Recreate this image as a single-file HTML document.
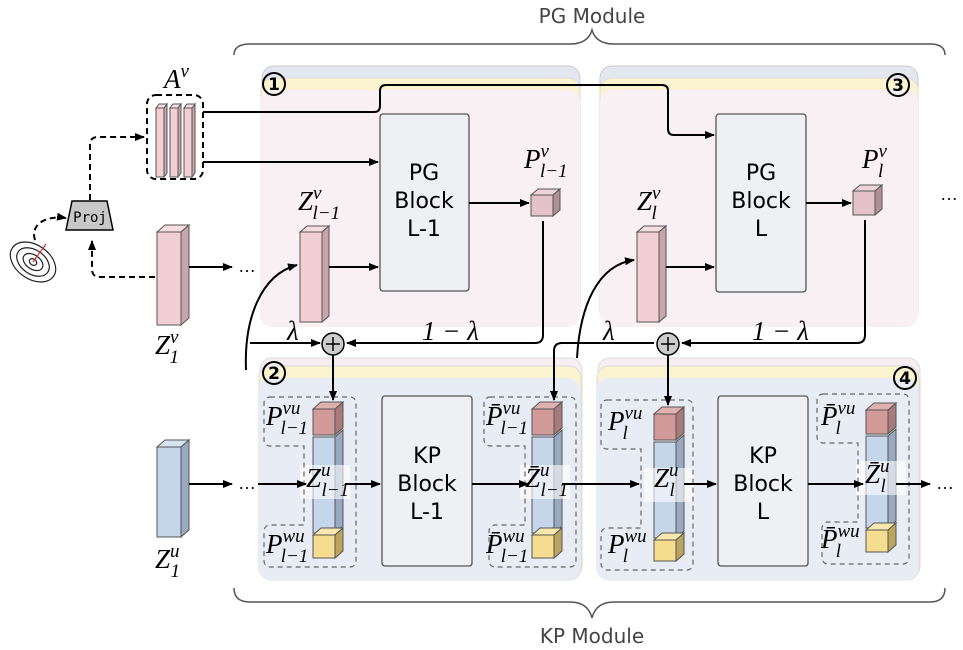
<!DOCTYPE html>
<html><head><meta charset="utf-8"><style>
body{margin:0;background:#fff}
svg{display:block}
.m{font-family:"Liberation Serif",serif;font-style:italic;font-size:27px}
.s{font-family:"Liberation Serif",serif;font-style:italic;font-size:19px}
.b{font-family:"DejaVu Sans","Liberation Sans",sans-serif;font-size:22px;text-anchor:middle}
.t{font-family:"DejaVu Sans","Liberation Sans",sans-serif;font-size:20px;fill:#444;text-anchor:middle}
</style></head><body>
<svg width="963" height="650" viewBox="0 0 963 650" xmlns="http://www.w3.org/2000/svg">
<defs>
<marker id="a" markerWidth="10" markerHeight="8" refX="9" refY="4" orient="auto" markerUnits="userSpaceOnUse"><path d="M0,0L10,4L0,8z" fill="#000"/></marker>
</defs>
<text x="592" y="23" class="t">PG Module</text>
<text x="592" y="643" class="t">KP Module</text>
<path d="M234,55 Q234,44 250,44 L570,44 Q588,44 592,30 Q596,44 614,44 L930,44 Q945,44 945,55" fill="none" stroke="#555" stroke-width="1.5"/>
<path d="M234,588 Q234,602 250,602 L570,602 Q588,602 592,618 Q596,602 614,602 L930,602 Q945,602 945,588" fill="none" stroke="#555" stroke-width="1.5"/>

<g>
<rect x="262" y="66" width="318" height="255" rx="12" fill="#e3e8f0" stroke="#ccc"/>
<rect x="261" y="78" width="319" height="245" rx="12" fill="#fbf3cf" stroke="#ddd"/>
<rect x="260" y="90" width="320" height="237" rx="12" fill="#f9f0f3"/>
<rect x="600" y="66" width="318" height="255" rx="12" fill="#e3e8f0" stroke="#ccc"/>
<rect x="600" y="78" width="318" height="245" rx="12" fill="#fbf3cf" stroke="#ddd"/>
<rect x="600" y="90" width="318" height="237" rx="12" fill="#f9f0f3"/>
<rect x="260" y="358" width="322" height="220" rx="12" fill="#f6eef0" stroke="#ddd"/>
<rect x="259" y="366" width="322" height="214" rx="12" fill="#fbf3cf" stroke="#ddd"/>
<rect x="258" y="378" width="322" height="202" rx="12" fill="#e8edf5"/>
<rect x="598" y="358" width="322" height="220" rx="12" fill="#f6eef0" stroke="#ddd"/>
<rect x="597" y="366" width="322" height="214" rx="12" fill="#fbf3cf" stroke="#ddd"/>
<rect x="596" y="378" width="322" height="202" rx="12" fill="#e8edf5"/>
</g>
<g font-family="DejaVu Sans,sans-serif" font-size="17" text-anchor="middle" font-weight="bold">
<circle cx="274" cy="84" r="11" fill="none" stroke="#000" stroke-width="2"/><text x="274" y="90">1</text>
<circle cx="898" cy="85" r="11" fill="none" stroke="#000" stroke-width="2"/><text x="898" y="91">3</text>
<circle cx="274" cy="373" r="11" fill="none" stroke="#000" stroke-width="2"/><text x="274" y="379">2</text>
<circle cx="905" cy="378" r="11" fill="none" stroke="#000" stroke-width="2"/><text x="905" y="384">4</text>
</g>

<g fill="#eef0f3" stroke="#555" stroke-width="1.3">
<rect x="380" y="114" width="89" height="177" rx="3"/>
<rect x="716" y="114" width="90" height="178" rx="3"/>
<rect x="382" y="396" width="90" height="170" rx="3"/>
<rect x="718" y="396" width="90" height="170" rx="3"/>
</g>
<text class="b" x="424" y="180">PG</text><text class="b" x="424" y="208">Block</text><text class="b" x="424" y="236">L-1</text>
<text class="b" x="761" y="180">PG</text><text class="b" x="761" y="208">Block</text><text class="b" x="761" y="236">L</text>
<text class="b" x="427" y="463">KP</text><text class="b" x="427" y="491">Block</text><text class="b" x="427" y="519">L-1</text>
<text class="b" x="763" y="463">KP</text><text class="b" x="763" y="491">Block</text><text class="b" x="763" y="519">L</text>

<g stroke="#555" stroke-width="1">
<rect x="157" y="232" width="24" height="93" fill="#f2cfd5"/><path d="M157,232l8,-7h24l-8,7z" fill="#f6dde1"/><path d="M181,232l8,-7v93l-8,7z" fill="#c9a5ab"/>
<rect x="157" y="447" width="24" height="90" fill="#c5d5ea"/><path d="M157,447l8,-7h24l-8,7z" fill="#d8e3f1"/><path d="M181,447l8,-7v90l-8,7z" fill="#98a9c0"/>
<rect x="300" y="232" width="22" height="90" fill="#f2cfd5"/><path d="M300,232l7,-6h22l-7,6z" fill="#f6dde1"/><path d="M322,232l7,-6v90l-7,6z" fill="#c9a5ab"/>
<rect x="637" y="232" width="22" height="90" fill="#f2cfd5"/><path d="M637,232l7,-6h22l-7,6z" fill="#f6dde1"/><path d="M659,232l7,-6v90l-7,6z" fill="#c9a5ab"/>
<rect x="531" y="195" width="22" height="21" fill="#e3c2cb"/><path d="M531,195l7,-6h22l-7,6z" fill="#ecd3da"/><path d="M553,195l7,-6v21l-7,6z" fill="#b08f98"/>
<rect x="853" y="191" width="22" height="24" fill="#e3c2cb"/><path d="M853,191l7,-6h22l-7,6z" fill="#ecd3da"/><path d="M875,191l7,-6v24l-7,6z" fill="#b08f98"/>
<path d="M156,108h8v69h-8z M170,108h8v69h-8z M184,108h8v69h-8z" fill="#f2cfd5"/>
<path d="M164,108l3,-4v69l-3,4z M178,108l3,-4v69l-3,4z M192,108l3,-4v69l-3,4z" fill="#c9a5ab"/>
<path d="M156,108l3,-4h8l-3,4z M170,108l3,-4h8l-3,4z M184,108l3,-4h8l-3,4z" fill="#f6dde1"/>
</g>
<rect x="147" y="95" width="56" height="84" rx="9" fill="none" stroke="#000" stroke-width="2" stroke-dasharray="6,4"/>

<g stroke="#555" stroke-width="1">
<rect x="313" y="409" width="22" height="26" fill="#d29b9a"/><path d="M313,409l8,-7h22l-8,7z" fill="#deb0ae"/><path d="M335,409l8,-7v26l-8,7z" fill="#a97a7a"/>
<rect x="313" y="437" width="22" height="96" fill="#c5d5ea"/><path d="M335,437l8,-7v96l-8,7z" fill="#98a9c0"/>
<rect x="313" y="535" width="22" height="23" fill="#f5dd90"/><path d="M313,535l8,-7h22l-8,7z" fill="#f8e7ae"/><path d="M335,535l8,-7v23l-8,7z" fill="#bba45d"/>
<rect x="532" y="409" width="22" height="26" fill="#d29b9a"/><path d="M532,409l8,-7h22l-8,7z" fill="#deb0ae"/><path d="M554,409l8,-7v26l-8,7z" fill="#a97a7a"/>
<rect x="532" y="437" width="22" height="96" fill="#c5d5ea"/><path d="M554,437l8,-7v96l-8,7z" fill="#98a9c0"/>
<rect x="532" y="535" width="22" height="23" fill="#f5dd90"/><path d="M532,535l8,-7h22l-8,7z" fill="#f8e7ae"/><path d="M554,535l8,-7v23l-8,7z" fill="#bba45d"/>
<rect x="654" y="414" width="22" height="26" fill="#d29b9a"/><path d="M654,414l8,-7h22l-8,7z" fill="#deb0ae"/><path d="M676,414l8,-7v26l-8,7z" fill="#a97a7a"/>
<rect x="654" y="442" width="22" height="96" fill="#c5d5ea"/><path d="M676,442l8,-7v96l-8,7z" fill="#98a9c0"/>
<rect x="654" y="540" width="22" height="21" fill="#f5dd90"/><path d="M654,540l8,-7h22l-8,7z" fill="#f8e7ae"/><path d="M676,540l8,-7v21l-8,7z" fill="#bba45d"/>
<rect x="866" y="410" width="22" height="24" fill="#d29b9a"/><path d="M866,410l8,-7h22l-8,7z" fill="#deb0ae"/><path d="M888,410l8,-7v24l-8,7z" fill="#a97a7a"/>
<rect x="866" y="436" width="22" height="92" fill="#c5d5ea"/><path d="M888,436l8,-7v92l-8,7z" fill="#98a9c0"/>
<rect x="866" y="530" width="22" height="22" fill="#f5dd90"/><path d="M866,530l8,-7h22l-8,7z" fill="#f8e7ae"/><path d="M888,530l8,-7v22l-8,7z" fill="#bba45d"/>
</g>
<g fill="#fff" opacity="0.6">
<rect x="300" y="465" width="50" height="34"/><rect x="520" y="465" width="50" height="34"/>
<rect x="644" y="468" width="50" height="34"/><rect x="856" y="461" width="50" height="34"/>
</g>
<g fill="none" stroke="#666" stroke-width="1.2" stroke-dasharray="5,4">
<path d="M270,397h80a6,6 0 0 1 6,6v158a6,6 0 0 1 -6,6h-80a6,6 0 0 1 -6,-6v-30a6,6 0 0 1 6,-6h34v-79h-34a6,6 0 0 1 -6,-6v-37a6,6 0 0 1 6,-6z"/>
<path d="M490,397h80a6,6 0 0 1 6,6v158a6,6 0 0 1 -6,6h-75a6,6 0 0 1 -6,-6v-30a6,6 0 0 1 6,-6h30v-79h-35a6,6 0 0 1 -6,-6v-37a6,6 0 0 1 6,-6z"/>
<path d="M607,400h80a6,6 0 0 1 6,6v158a6,6 0 0 1 -6,6h-80a6,6 0 0 1 -6,-6v-30a6,6 0 0 1 6,-6h34v-79h-34a6,6 0 0 1 -6,-6v-37a6,6 0 0 1 6,-6z"/>
<path d="M823,394h80a6,6 0 0 1 6,6v158a6,6 0 0 1 -6,6h-75a6,6 0 0 1 -6,-6v-30a6,6 0 0 1 6,-6h30v-79h-35a6,6 0 0 1 -6,-6v-37a6,6 0 0 1 6,-6z"/>
</g>

<g fill="none" stroke="#000" stroke-width="2">
<path d="M203,112H374q6,0 6,-6v-15q0,-6 6,-6H662q6,0 6,6v38q0,6 6,6H714" marker-end="url(#a)"/>
<path d="M203,162H378" marker-end="url(#a)"/>
<path d="M329,267H378" marker-end="url(#a)"/>
<path d="M666,267H714" marker-end="url(#a)"/>
<path d="M469,203H529" marker-end="url(#a)"/>
<path d="M806,203H851" marker-end="url(#a)"/>
<path d="M189,267H232" marker-end="url(#a)"/>
<path d="M543,221V335q0,8 -8,8H347" marker-end="url(#a)"/>
<path d="M865,220V335q0,8 -8,8H682" marker-end="url(#a)"/>
<path d="M250,343H320" marker-end="url(#a)"/>
<path d="M654,343H562q-8,0 -8,8V400" marker-end="url(#a)"/>
<path d="M333,355V400" marker-end="url(#a)"/>
<path d="M668,355V405" marker-end="url(#a)"/>
<path d="M246,370C244,320 260,275 297,265" marker-end="url(#a)"/>
<path d="M577,358C580,305 598,265 634,260" marker-end="url(#a)"/>
<path d="M189,484H232" marker-end="url(#a)"/>
<path d="M258,484H306" marker-end="url(#a)"/>
<path d="M345,484H380" marker-end="url(#a)"/>
<path d="M472,484H528" marker-end="url(#a)"/>
<path d="M562,484H639" marker-end="url(#a)"/>
<path d="M684,484H716" marker-end="url(#a)"/>
<path d="M808,484H863" marker-end="url(#a)"/>
<path d="M896,484H930" marker-end="url(#a)"/>
</g>
<g stroke="#000" stroke-width="1.5">
<circle cx="333" cy="344" r="11" fill="#ccc"/><path d="M326,344h14M333,337v14"/>
<circle cx="668" cy="344" r="11" fill="#ccc"/><path d="M661,344h14M668,337v14"/>
</g>
<g fill="none" stroke="#000" stroke-width="2" stroke-dasharray="6,4">
<path d="M90,200V145q0,-8 8,-8H144" marker-end="url(#a)"/>
<path d="M155,277H100q-8,0 -8,-8V241" marker-end="url(#a)"/>
<path d="M35,240C30,225 45,215 66,218" marker-end="url(#a)"/>
</g>
<path d="M72,201H107L113,230H66Z" fill="#c8c8c8" stroke="#000" stroke-width="1.5"/>
<text x="90" y="222" font-family="DejaVu Sans Mono,monospace" font-size="14" text-anchor="middle">Proj</text>
<g fill="none" stroke="#222" stroke-width="1.2">
<ellipse cx="33" cy="262" rx="25" ry="17" transform="rotate(35 33 262)"/>
<ellipse cx="33" cy="262" rx="18" ry="12" transform="rotate(35 33 262)"/>
<ellipse cx="33" cy="262" rx="11" ry="7" transform="rotate(35 33 262)"/>
<ellipse cx="33" cy="262" rx="4" ry="3" transform="rotate(35 33 262)"/>
</g>
<path d="M33,262L46,244" stroke="#c33" stroke-width="1.2"/>

<g font-family="Liberation Sans,sans-serif" font-size="18"><text x="238" y="272">…</text><text x="940" y="200">…</text><text x="238" y="489">…</text><text x="936" y="489">…</text></g>

<text class="m" x="164" y="88">A<tspan class="s" dy="-11">v</tspan></text>
<text class="m" x="155" y="354">Z<tspan class="s" dy="-11">v</tspan><tspan class="s" dx="-9" dy="20">1</tspan></text>
<text class="m" x="155" y="568">Z<tspan class="s" dy="-11">u</tspan><tspan class="s" dx="-9" dy="20">1</tspan></text>
<text class="m" x="298" y="210">Z<tspan class="s" dy="-11">v</tspan><tspan class="s" dx="-9" dy="20">l−1</tspan></text>
<text class="m" x="637" y="210">Z<tspan class="s" dy="-11">v</tspan><tspan class="s" dx="-9" dy="20">l</tspan></text>
<text class="m" x="524" y="168">P<tspan class="s" dy="-11">v</tspan><tspan class="s" dx="-9" dy="20">l−1</tspan></text>
<text class="m" x="862" y="168">P<tspan class="s" dy="-11">v</tspan><tspan class="s" dx="-9" dy="20">l</tspan></text>
<text class="m" x="287" y="340">λ</text><text class="m" x="422" y="340">1 − λ</text>
<text class="m" x="603" y="340">λ</text><text class="m" x="752" y="340">1 − λ</text>
<text class="m" x="266" y="425">P<tspan class="s" dy="-11">vu</tspan><tspan class="s" dx="-20" dy="20">l−1</tspan></text>
<text class="m" x="266" y="553">P<tspan class="s" dy="-11">wu</tspan><tspan class="s" dx="-24" dy="20">l−1</tspan></text>
<text class="m" x="306" y="487">Z<tspan class="s" dy="-11">u</tspan><tspan class="s" dx="-9" dy="20">l−1</tspan></text>
<text class="m" x="486" y="425">P̄<tspan class="s" dy="-11">vu</tspan><tspan class="s" dx="-20" dy="20">l−1</tspan></text>
<text class="m" x="486" y="553">P̄<tspan class="s" dy="-11">wu</tspan><tspan class="s" dx="-24" dy="20">l−1</tspan></text>
<text class="m" x="525" y="487">Z̄<tspan class="s" dy="-11">u</tspan><tspan class="s" dx="-9" dy="20">l−1</tspan></text>
<text class="m" x="608" y="430">P<tspan class="s" dy="-11">vu</tspan><tspan class="s" dx="-20" dy="20">l</tspan></text>
<text class="m" x="608" y="553">P<tspan class="s" dy="-11">wu</tspan><tspan class="s" dx="-24" dy="20">l</tspan></text>
<text class="m" x="654" y="487">Z<tspan class="s" dy="-11">u</tspan><tspan class="s" dx="-9" dy="20">l</tspan></text>
<text class="m" x="821" y="425">P̄<tspan class="s" dy="-11">vu</tspan><tspan class="s" dx="-20" dy="20">l</tspan></text>
<text class="m" x="821" y="548">P̄<tspan class="s" dy="-11">wu</tspan><tspan class="s" dx="-24" dy="20">l</tspan></text>
<text class="m" x="865" y="483">Z̄<tspan class="s" dy="-11">u</tspan><tspan class="s" dx="-9" dy="20">l</tspan></text>
</svg>
</body></html>
